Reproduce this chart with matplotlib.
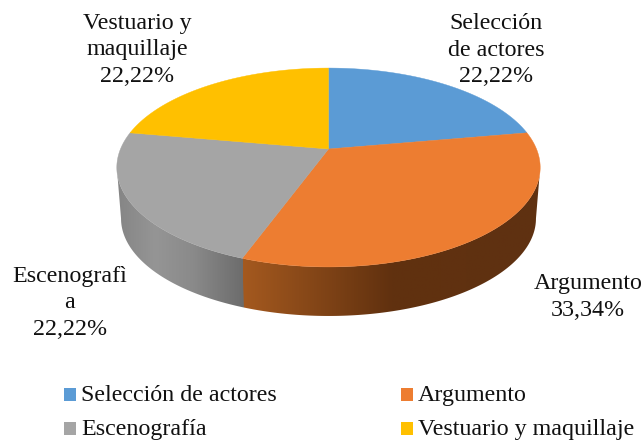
import numpy as np
import matplotlib
matplotlib.use('Agg')
import matplotlib.pyplot as plt
from matplotlib.colors import LinearSegmentedColormap
from matplotlib.patches import Polygon, Rectangle

categories = ['Selección de actores', 'Argumento', 'Escenografía', 'Vestuario y maquillaje']
values = [22.22, 33.34, 22.22, 22.22]
pct_labels = ['22,22%', '33,34%', '22,22%', '22,22%']
slice_names = ['Selección\nde actores', 'Argumento', 'Escenografì\na', 'Vestuario y\nmaquillaje']
colors = ['#5b9bd5', '#ed7d31', '#a5a5a5', '#ffc000']

plt.rcParams['font.family'] = ['Liberation Serif', 'DejaVu Serif']
FS = 17.3

# pie geometry in pixels, circle seen in perspective
CX, CY = 328.5, 149
SX, SY, PERSP = 208, 96, 0.186
SHRINK = 0.98
SHIFT = 51.4


def arc(a0, a1, n=120):
    t = np.radians(np.linspace(a0, a1, n))
    x, y = np.sin(t), np.cos(t)
    w = 1 + PERSP * y
    return np.column_stack([CX + SX * x / w, CY - SY * y / w])


fig = plt.figure(figsize=(6.44, 4.41), dpi=100)
ax = fig.add_axes([0, 0, 1, 1])
ax.set_xlim(0, 644)
ax.set_ylim(441, 0)
ax.axis('off')

angles = np.concatenate([[0], np.cumsum(values)]) / sum(values) * 360
# where the outline turns, the wall silhouette starts there
side = np.degrees(np.arccos(-PERSP))


# side walls first, the top face covers whatever is hidden
def wall(a0, a1, stops, x0, x1):
    top = arc(a0, a1)
    low = (top[::-1] - [CX, CY]) * SHRINK + [CX, CY + SHIFT]
    poly = Polygon(np.vstack([top, low]), closed=True, fc='none', ec='none')
    ax.add_patch(poly)
    cmap = LinearSegmentedColormap.from_list('w', stops)
    im = ax.imshow(np.linspace(0, 1, 256)[None, :], cmap=cmap, aspect='auto',
                   extent=[x0, x1, 330, 120], zorder=1)
    im.set_clip_path(poly)


# gray runs a little under the orange one so no seam shows
wall(angles[2] - 10, 360 - side, [(0, '#858585'), (0.3, '#959595'), (0.6, '#8a8a8a'), (1, '#6c6c6c')], 117, 244)
wall(side, angles[2], [(0, '#a4591f'), (0.5, '#61310f'), (1, '#5f3112')], 243, 540)
ax.set_xlim(0, 644)
ax.set_ylim(441, 0)

# top face
for i in range(len(values)):
    pts = np.vstack([[CX, CY], arc(angles[i], angles[i + 1])])
    ax.add_patch(Polygon(pts, closed=True, fc=colors[i], ec=colors[i], lw=0.3, zorder=2))

# data labels
label_pos = [(496, 50), (588, 297), (70, 303), (137, 50)]
for name, pct, (x, y) in zip(slice_names, pct_labels, label_pos):
    ax.text(x, y, name + '\n' + pct, ha='center', va='center', fontsize=FS,
            linespacing=1.33, color='#111111', zorder=3)

# legend
leg_x = [64, 401]
leg_y = [401, 435]
for i, cat in enumerate(categories):
    x = leg_x[i % 2]
    y = leg_y[i // 2]
    ax.add_patch(Rectangle((x, y - 13), 12.5, 12.5, fc=colors[i], ec='none', zorder=3))
    ax.text(x + 17, y, cat, ha='left', va='baseline', fontsize=FS, color='#111111')

fig.savefig('out.png', dpi=100)
